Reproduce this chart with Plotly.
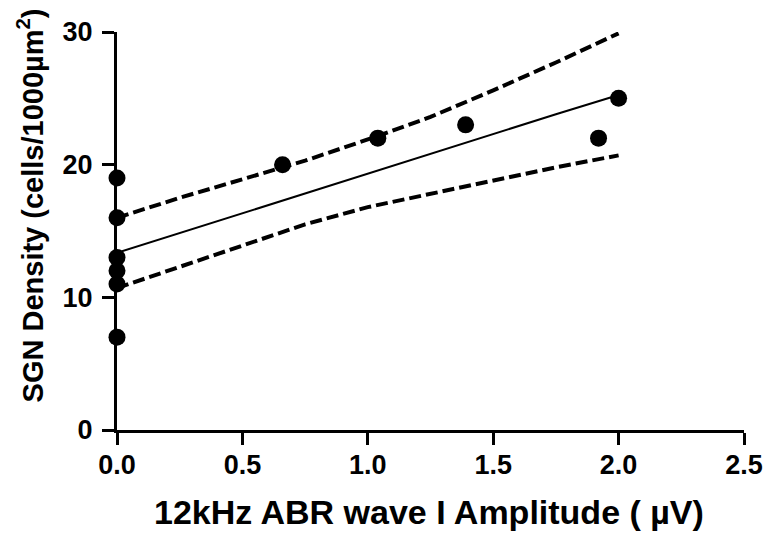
import plotly.graph_objects as go

# Data points
amp_uv = [0, 0, 0, 0, 0, 0, 0.66, 1.04, 1.39, 1.92, 2.0]
sgn_density = [19, 16, 13, 12, 11, 7, 20, 22, 23, 22, 25]

# Regression line and 95% confidence bands
fit_x = [0, 0.25, 0.5, 0.75, 1.0, 1.25, 1.5, 1.75, 2.0]
fit_y = [13.35, 14.85, 16.3, 17.8, 19.3, 20.8, 22.3, 23.8, 25.25]
upper_ci = [16.0, 17.5, 18.9, 20.3, 21.9, 23.6, 25.6, 27.7, 29.9]
lower_ci = [10.7, 12.3, 13.9, 15.5, 16.8, 17.8, 18.8, 19.8, 20.7]

x_ticks = [0, 0.5, 1.0, 1.5, 2.0, 2.5]
x_tick_labels = ["0.0", "0.5", "1.0", "1.5", "2.0", "2.5"]
y_ticks = [0, 10, 20, 30]

x_title = "12kHz ABR wave I Amplitude ( \u00b5V)"
y_title = "SGN Density (cells/1000\u00b5m<sup>2</sup>)"

FONT = "Liberation Sans, Arial, sans-serif"

fig = go.Figure()
fig.add_trace(go.Scatter(x=fit_x, y=upper_ci, mode="lines",
                         line=dict(color="black", width=4, dash="12px,5px"),
                         hoverinfo="skip"))
fig.add_trace(go.Scatter(x=fit_x, y=lower_ci, mode="lines",
                         line=dict(color="black", width=4, dash="12px,5px"),
                         hoverinfo="skip"))
fig.add_trace(go.Scatter(x=fit_x, y=fit_y, mode="lines",
                         line=dict(color="black", width=2)))
fig.add_trace(go.Scatter(x=amp_uv, y=sgn_density, mode="markers",
                         marker=dict(color="black", size=17), cliponaxis=False))

fig.update_layout(
    width=775, height=536,
    margin=dict(l=117, r=28, t=32, b=106),
    paper_bgcolor="white", plot_bgcolor="white",
    showlegend=False,
    font=dict(family=FONT, color="black", size=21),
    xaxis=dict(range=[0, 2.5], tickvals=x_ticks, ticktext=x_tick_labels,
               showgrid=False, zeroline=False, showline=True, linecolor="black",
               linewidth=3, ticks="outside", ticklen=12, tickwidth=3,
               tickcolor="black", ticklabelstandoff=-3,
               tickfont=dict(family=FONT, size=27, weight="bold")),
    yaxis=dict(range=[0, 30], tickvals=y_ticks,
               showgrid=False, zeroline=False, showline=True, linecolor="black",
               linewidth=3, ticks="outside", ticklen=12, tickwidth=3,
               tickcolor="black", ticklabelstandoff=4,
               tickfont=dict(family=FONT, size=27, weight="bold")),
    annotations=[
        dict(text=x_title, xref="paper", yref="paper",
             x=(430 - 117) / 630, y=(430 - 512) / 398,
             xanchor="center", yanchor="middle", showarrow=False,
             font=dict(family=FONT, size=34, weight="bold")),
        dict(text=y_title, xref="paper", yref="paper", textangle=-90,
             x=(30 - 117) / 630, y=(430 - 205) / 398,
             xanchor="center", yanchor="middle", showarrow=False,
             font=dict(family=FONT, size=29, weight="bold")),
    ],
)

fig.write_html("out.html", config={"displayModeBar": False},
               post_script="document.body.style.margin='0';")
